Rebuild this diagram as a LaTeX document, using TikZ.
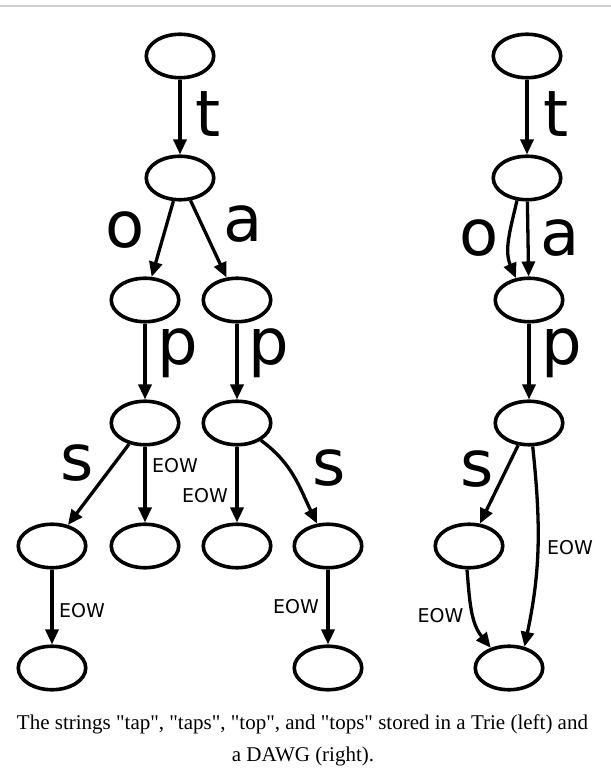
\documentclass[tikz,border=0pt]{standalone}
\usepackage{fontspec}
\setmainfont{Liberation Serif}[Ligatures=TeXOff]
\newfontfamily\labfont{DejaVu Sans}
\usetikzlibrary{arrows.meta,shapes.geometric}
\tikzset{
  state/.style={draw=black, line width=3.6pt, ellipse, minimum width=67.5pt, minimum height=43.5pt, inner sep=0pt},
  edge/.style={line width=3.3pt, -{Triangle[length=15pt,width=13pt]}},
  biglab/.style={anchor=base, inner sep=0pt, font=\labfont\fontsize{64}{64}\selectfont},
  eowlab/.style={anchor=base, inner sep=0pt, font=\labfont\fontsize{19}{19}\selectfont},
  caption/.style={anchor=base, inner sep=0pt, font=\fontsize{21}{21}\selectfont}
}
\begin{document}
\begin{tikzpicture}[x=1pt,y=1pt]
\useasboundingbox (0,0) rectangle (611,780);
\coordinate (gl) at (0,774);
\coordinate (gr) at (611,774);
\draw[line width=2pt, color=black!18] (gl) -- (gr);

% Trie
\node[state] (r1) at (180,724) {};
\node[state] (c1) at (180,602) {};
\node[state] (o1) at (145,480) {};
\node[state] (a1) at (237,480) {};
\node[state] (p1) at (145,357) {};
\node[state] (p2) at (237,357) {};
\node[state] (s1) at (52,234) {};
\node[state] (e1) at (145,234) {};
\node[state] (e2) at (237,234) {};
\node[state] (s2) at (328,234) {};
\node[state] (e3) at (52,112) {};
\node[state] (e4) at (328,112) {};

\draw[edge] (r1) -- (c1);
\draw[edge] (c1) -- (o1);
\draw[edge] (c1) -- (a1);
\draw[edge] (o1) -- (p1);
\draw[edge] (a1) -- (p2);
\draw[edge] (p1) -- (s1);
\draw[edge] (p1) -- (e1);
\draw[edge] (p2) -- (e2);
\draw[edge] (p2) to[out=-36,in=116] (s2);
\draw[edge] (s1) -- (e3);
\draw[edge] (s2) -- (e4);

\node[biglab] (lt1) at (208.5,643) {t};
\node[biglab] (lo1) at (125,532) {o};
\node[biglab] (la1) at (243,538) {a};
\node[biglab] (lp1) at (177.5,415) {p};
\node[biglab] (lp2) at (269,415) {p};
\node[biglab] (ls1) at (77.5,299) {s};
\node[biglab] (ls2) at (329,294) {s};
\node[eowlab] (le1) at (175,307) {EOW};
\node[eowlab] (le2) at (205,277) {EOW};
\node[eowlab] (le3) at (82,162) {EOW};
\node[eowlab] (le4) at (296,166) {EOW};

% DAWG
\node[state] (d1) at (527,724) {};
\node[state] (d2) at (527,602) {};
\node[state] (d3) at (529,480) {};
\node[state] (d4) at (529,357) {};
\node[state] (d5) at (469,234) {};
\node[state] (d6) at (509,112) {};

\draw[edge] (d1) -- (d2);
\draw[edge] (d2.-114) to[out=-103,in=113] (d3.121);
\draw[edge] (d2) -- (d3);
\draw[edge] (d3) -- (d4);
\draw[edge] (d4) -- (d5);
\draw[edge] (d4.-81) to[out=-84,in=78] (d6.54);
\draw[edge] (d5.-95) to[out=-85,in=129] (d6.132);

\node[biglab] (dt) at (556,643) {t};
\node[biglab] (do) at (479,524) {o};
\node[biglab] (da) at (560,524) {a};
\node[biglab] (dp) at (562,415) {p};
\node[biglab] (ds) at (477.5,293) {s};
\node[eowlab] (de1) at (570,225) {EOW};
\node[eowlab] (de2) at (440.5,157) {EOW};

% caption
\node[caption] (cap1) at (302.5,50) {The strings "tap", "taps", "top", and "tops" stored in a Trie (left) and};
\node[caption] (cap2) at (303,18) {a DAWG (right).};
\end{tikzpicture}
\end{document}
